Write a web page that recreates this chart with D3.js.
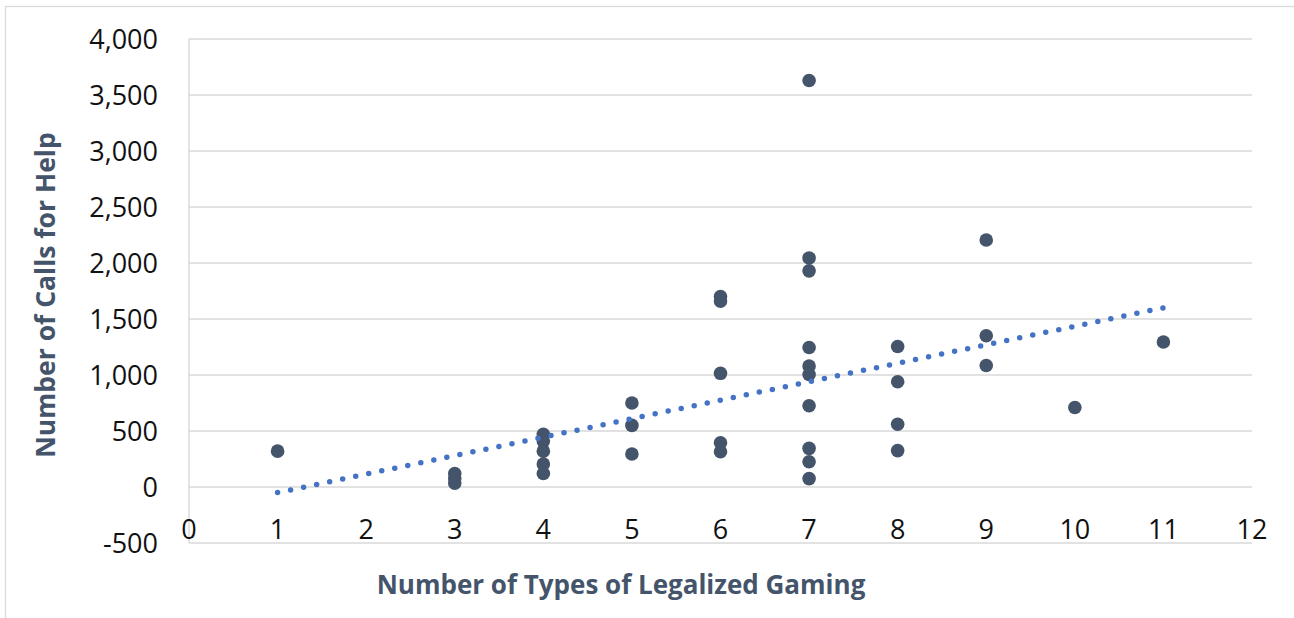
<!DOCTYPE html>
<html>
<head>
<meta charset="utf-8">
<script src="https://cdn.jsdelivr.net/npm/d3@7"></script>
<style>
  html, body { margin: 0; padding: 0; background: #fff; }
  svg { display: block; }
</style>
</head>
<body>
<svg id="chart" width="1294" height="618"></svg>
<script>
// ---- data ----
const pointX = [1,
  3, 3, 3,
  4, 4, 4, 4, 4,
  5, 5, 5,
  6, 6, 6, 6, 6,
  7, 7, 7, 7, 7, 7, 7, 7, 7, 7,
  8, 8, 8, 8,
  9, 9, 9,
  10,
  11];
const pointY = [320,
  120, 75, 35,
  470, 410, 320, 205, 120,
  750, 550, 295,
  1700, 1660, 1015, 395, 315,
  3630, 2045, 1930, 1245, 1080, 1005, 725, 345, 225, 75,
  1255, 940, 560, 325,
  2205, 1350, 1085,
  710,
  1295];
const trendX = [1, 11];
const trendY = [-50, 1600];
const xTicks = [0,1,2,3,4,5,6,7,8,9,10,11,12];
const yTicks = [-500,0,500,1000,1500,2000,2500,3000,3500,4000];
const xTitle = "Number of Types of Legalized Gaming";
const yTitle = "Number of Calls for Help";

// ---- layout ----
const svg = d3.select("#chart");
const plotL = 189, plotR = 1252, plotT = 39, plotB = 543;
const x = d3.scaleLinear().domain([0, 12]).range([plotL, plotR]);
const y = d3.scaleLinear().domain([-500, 4000]).range([plotB, plotT]);
const titleColor = "#44546A";
const gridColor = "#d9d9d9";

// outer chart border
svg.append("rect").attr("x", 5.5).attr("y", 6.5).attr("width", 1300).attr("height", 620)
  .attr("fill", "none").attr("stroke", "#d9d9d9").attr("stroke-width", 1.3);

// horizontal gridlines
svg.append("g").selectAll("line").data(yTicks).join("line")
  .attr("x1", plotL).attr("x2", plotR)
  .attr("y1", d => y(d)).attr("y2", d => y(d))
  .attr("stroke", gridColor).attr("stroke-width", 1.4);

// vertical axis line at x = 0
svg.append("line").attr("x1", x(0)).attr("x2", x(0)).attr("y1", plotT).attr("y2", plotB)
  .attr("stroke", gridColor).attr("stroke-width", 1.4);

// y tick labels
const fmt = d => d3.format(",")(d).replace("\u2212", "-");
svg.append("g").selectAll("text").data(yTicks).join("text")
  .attr("x", 158).attr("y", d => y(d)).attr("dy", "0.36em")
  .attr("text-anchor", "end")
  .attr("font-family", "'Open Sans', sans-serif").attr("font-size", 27)
  .attr("fill", "#111")
  .text(d => fmt(d));

// x tick labels
svg.append("g").selectAll("text").data(xTicks).join("text")
  .attr("x", d => x(d)).attr("y", 539)
  .attr("text-anchor", "middle")
  .attr("font-family", "'Open Sans', sans-serif").attr("font-size", 27)
  .attr("fill", "#111")
  .text(d => d);

// points
const pts = pointX.map((d, i) => ({x: d, y: pointY[i]}));
svg.append("g").selectAll("circle").data(pts).join("circle")
  .attr("cx", d => x(d.x)).attr("cy", d => y(d.y)).attr("r", 6.8)
  .attr("fill", "#44546A");

// dotted trendline
const tr = trendX.map((d, i) => [x(d), y(trendY[i])]);
svg.append("path").attr("d", d3.line()(tr))
  .attr("fill", "none").attr("stroke", "#4472C4").attr("stroke-width", 5.5)
  .attr("stroke-linecap", "round").attr("stroke-dasharray", "0 13.3");

// axis titles
svg.append("text").attr("x", 621).attr("y", 594).attr("text-anchor", "middle")
  .attr("font-family", "'Open Sans', sans-serif").attr("font-weight", "bold").attr("font-size", 26)
  .attr("fill", titleColor).text(xTitle);

svg.append("text").attr("transform", "translate(55,295) rotate(-90)").attr("text-anchor", "middle")
  .attr("font-family", "'Open Sans', sans-serif").attr("font-weight", "bold").attr("font-size", 26.5)
  .attr("fill", titleColor).text(yTitle);
</script>
</body>
</html>
